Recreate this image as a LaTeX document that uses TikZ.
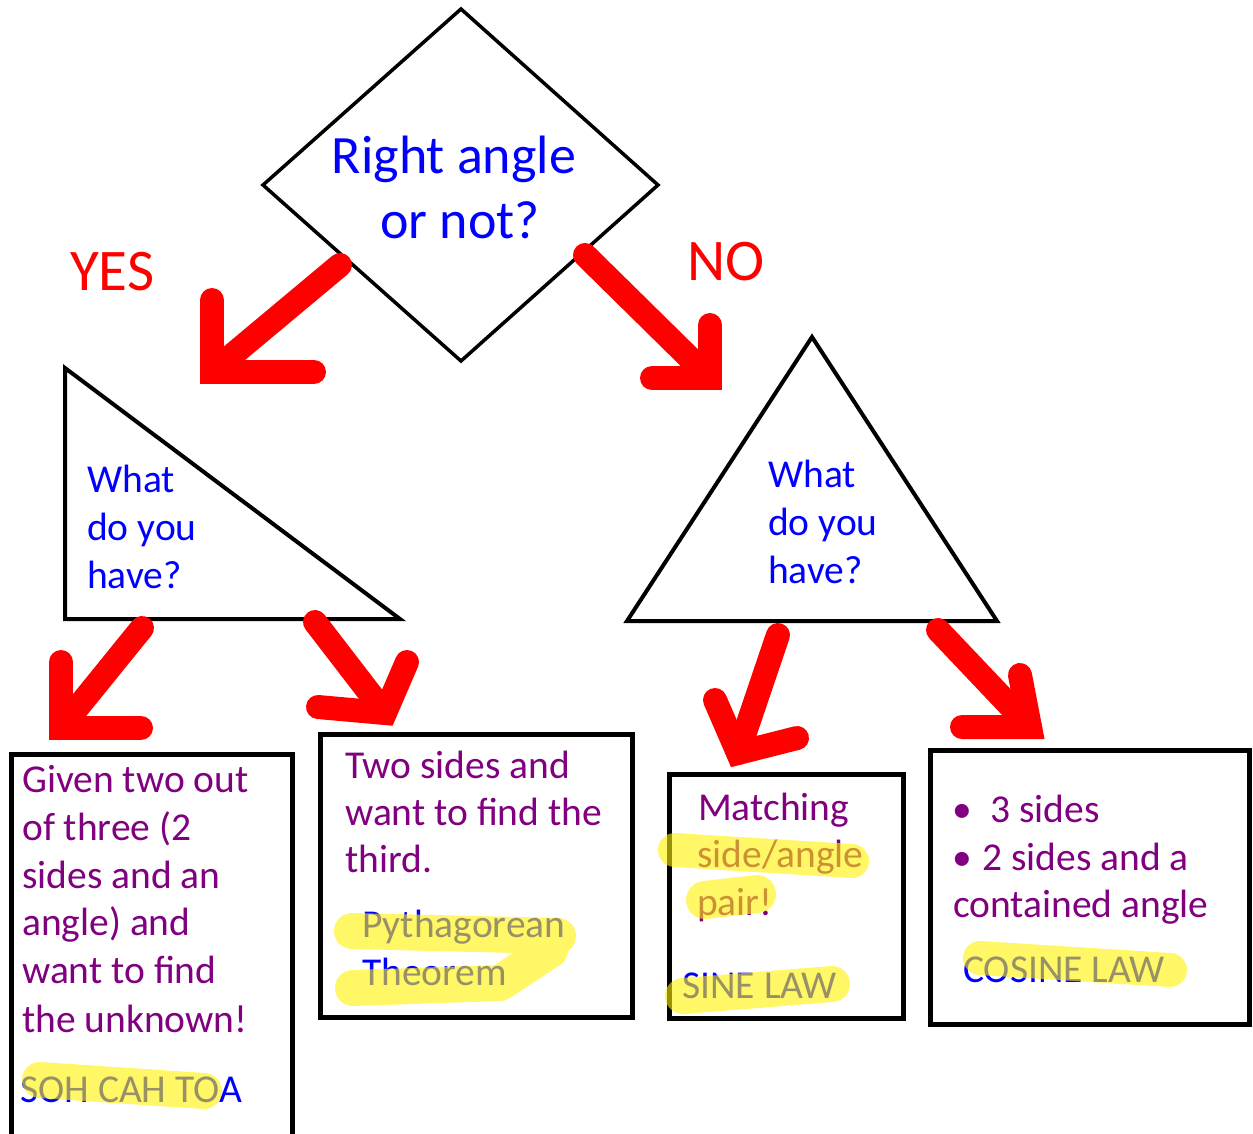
\documentclass[tikz,border=0pt]{standalone}
\usepackage{fontspec}
\setmainfont{Carlito}
\definecolor{purp}{RGB}{128,0,128}
\begin{document}
\begin{tikzpicture}[x=1pt,y=-1pt,
  shp/.style={draw=black,line width=4pt,line join=miter},
  boxline/.style={draw=black,line width=5pt},
  arr/.style={draw=red,line width=24pt,line cap=round,line join=miter},
  hl/.style={draw=yellow,line width=36pt,line cap=round,line join=round,draw opacity=0.6},
  bt/.style={text=blue,font=\fontsize{39.5}{48}\selectfont,anchor=base west,inner sep=0pt},
  pt/.style={text=purp,font=\fontsize{39.5}{48}\selectfont,anchor=base west,inner sep=0pt},
  rt/.style={text=red,font=\fontsize{59}{70}\selectfont,anchor=base west,inner sep=0pt}
]
\useasboundingbox (0,0) rectangle (1253,1133);
\fill[white] (0,0) rectangle (1253,1133);

% shapes
\coordinate (dT) at (461,9);
\coordinate (dL) at (263,185);
\coordinate (dR) at (658,185);
\coordinate (dB) at (461,361);
\draw[shp,line width=3.5pt] (dT) -- (dR) -- (dB) -- (dL) -- cycle;

\coordinate (rA) at (65,368);
\coordinate (rB) at (65,619);
\coordinate (rC) at (400,619);
\draw[shp] (rA) -- (rB) -- (rC) -- cycle;

\coordinate (iA) at (812,337);
\coordinate (iB) at (627,621);
\coordinate (iC) at (997,621);
\draw[shp] (iA) -- (iB) -- (iC) -- cycle;

\draw[boxline] (11,1140) -- (11,754) -- (292,754) -- (292,1140);
\draw[boxline] (320,734) rectangle (632,1017);
\draw[boxline] (669,774) rectangle (903,1018);
\draw[boxline] (930,750) rectangle (1249,1024);

% texts
\node[text=blue,font=\fontsize{54}{65}\selectfont,anchor=base,inner sep=0pt] (q1) at (454,173) {Right angle};
\node[text=blue,font=\fontsize{54}{65}\selectfont,anchor=base,inner sep=0pt] (q2) at (460,238) {or not?};
\node[rt] (yes) at (70,290) {YES};
\node[rt] (no) at (687,280) {NO};

\node[bt] (l1) at (87,492) {What};
\node[bt] (l2) at (87,540) {do you};
\node[bt] (l3) at (87,588) {have?};
\node[bt] (r1) at (768,487) {What};
\node[bt] (r2) at (768,535) {do you};
\node[bt] (r3) at (768,583) {have?};

\node[pt] (a1) at (22,792) {Given two out};
\node[pt] (a2) at (22,840) {of three (2};
\node[pt] (a3) at (22,888) {sides and an};
\node[pt] (a4) at (22,935) {angle) and};
\node[pt] (a5) at (22,983) {want to find};
\node[pt] (a6) at (22,1032) {the unknown!};
\node[bt] (a7) at (20,1102) {SOH CAH TOA};

\node[pt] (b1) at (345,778) {Two sides and};
\node[pt] (b2) at (345,825) {want to find the};
\node[pt] (b3) at (345,872) {third.};
\node[bt] (b4) at (362,937) {Pythagorean};
\node[bt] (b5) at (362,985) {Theorem};

\node[pt] (c1) at (698,820) {Matching};
\node[pt] (c2) at (697,867) {side/angle};
\node[pt] (c3) at (697,915) {pair!};
\node[bt] (c4) at (682,998) {SINE LAW};

\node[pt,anchor=base] (d0) at (962,822) {•};
\node[pt] (d1) at (990,822) {3 sides};
\node[pt,anchor=base] (d2) at (962,870) {•};
\node[pt] (d3) at (982,870) {2 sides and a};
\node[pt] (d4) at (953,917) {contained angle};
\node[bt] (d5) at (963,982) {COSINE LAW};

% highlights
\draw[hl] (40,1080) -- (204,1091);
\draw[hl] (352,931) -- (558,936) (353,988) -- (500,983) -- (550,950);
\draw[hl,line width=34pt] (675,850) -- (852,861);
\draw[hl,line width=38pt] (705,900) -- (757,894);
\draw[hl] (683,996) -- (832,984);
\draw[hl,line width=34pt] (980,958) -- (1170,970);

% arrows
\coordinate (y0) at (340,265); \coordinate (y1) at (212,372);
\coordinate (y2) at (212,300); \coordinate (y3) at (314,372);
\draw[arr] (y0) -- (y1);
\draw[arr] (y2) -- (y1) -- (y3);

\coordinate (n0) at (585,255); \coordinate (n1) at (710,378);
\coordinate (n2) at (710,325); \coordinate (n3) at (652,378);
\draw[arr] (n0) -- (n1);
\draw[arr] (n2) -- (n1) -- (n3);

\coordinate (p0) at (142,628); \coordinate (p1) at (61,728);
\coordinate (p2) at (61,662); \coordinate (p3) at (141,728);
\draw[arr] (p0) -- (p1);
\draw[arr] (p2) -- (p1) -- (p3);

\coordinate (s0) at (315,622); \coordinate (s1) at (385,713);
\coordinate (s2) at (407,662); \coordinate (s3) at (318,707);
\draw[arr] (s0) -- (s1);
\draw[arr] (s2) -- (s1) -- (s3);

\coordinate (u0) at (778,635); \coordinate (u1) at (738,753);
\coordinate (u2) at (715,700); \coordinate (u3) at (797,738);
\draw[arr] (u0) -- (u1);
\draw[arr] (u2) -- (u1) -- (u3);

\coordinate (v0) at (938,630); \coordinate (v1) at (1030,727);
\coordinate (v2) at (1020,675); \coordinate (v3) at (962,727);
\draw[arr] (v0) -- (v1);
\draw[arr] (v2) -- (v1) -- (v3);
\end{tikzpicture}
\end{document}
